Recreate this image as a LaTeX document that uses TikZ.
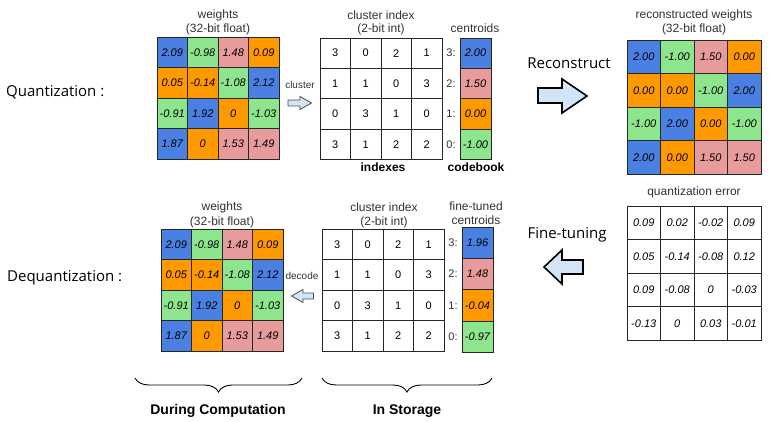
\documentclass[tikz,border=0pt]{standalone}
\usepackage{fontspec}
\setmainfont{Liberation Sans}
\newfontfamily\labfont{Open Sans}
\usetikzlibrary{decorations.pathreplacing}
\definecolor{cblue}{HTML}{4A80E1}
\definecolor{cgreen}{HTML}{8DE68D}
\definecolor{cpink}{HTML}{E89B9B}
\definecolor{corange}{HTML}{FF9900}
\definecolor{afill}{HTML}{D2E4F5}
\definecolor{tgray}{HTML}{333333}
\colorlet{c0}{cgreen}
\colorlet{c1}{corange}
\colorlet{c2}{cpink}
\colorlet{c3}{cblue}
\tikzset{
  cell/.style={draw=black!85, line width=0.8pt, inner sep=0pt, text=black,
    font=\fontsize{11}{11}\selectfont\itshape},
  icell/.style={cell, font=\fontsize{11}{11}\selectfont},
  ttl/.style={text=tgray, font=\fontsize{12}{14}\selectfont, inner sep=0pt},
  small/.style={text=tgray, font=\fontsize{10}{12}\selectfont, inner sep=0pt},
  bold/.style={text=black, font=\fontsize{12}{14}\selectfont\bfseries, inner sep=0pt},
  big/.style={text=black, font=\labfont\fontsize{15}{18}\selectfont, inner sep=0pt},
  bottomlbl/.style={text=black, font=\fontsize{14}{16}\selectfont\bfseries, inner sep=0pt},
  lbl/.style={text=tgray, font=\fontsize{11}{12}\selectfont, inner sep=0pt},
  bigarrow/.style={draw=black, line width=1.6pt, fill=afill, line join=miter},
  smallarrow/.style={draw=black!70, line width=0.8pt, fill=afill},
  bracestyle/.style={draw=black, line width=0.9pt, decorate,
    decoration={brace, mirror, amplitude=14pt}},
}
\def\idx{{3,0,2,1,1,1,0,3,0,3,1,0,3,1,2,2}}
\begin{document}
\begin{tikzpicture}[x=1pt,y=-1pt]
\useasboundingbox (0,0) rectangle (775,422);
\fill[white] (0,0) rectangle (775,422);

% left labels
\node[big, anchor=west] (lq) at (6,92) {Quantization :};
\node[big, anchor=west] (ldq) at (7,278) {Dequantization :};

% ---------- top-left weights ----------
\node[ttl] (t1a) at (218,15) {weights};
\node[ttl] (t1b) at (218,29) {(32-bit float)};
\foreach \v [count=\i from 0] in {2.09,-0.98,1.48,0.09,0.05,-0.14,-1.08,2.12,-0.91,1.92,0,-1.03,1.87,0,1.53,1.49}{
  \pgfmathtruncatemacro\r{div(\i,4)}
  \pgfmathtruncatemacro\c{mod(\i,4)}
  \pgfmathtruncatemacro\k{\idx[\i]}
  \node[cell, fill=c\k, minimum width=30.5pt, minimum height=30.5pt]
    (wq-\r-\c) at ({157+30.5*(\c+0.5)},{37+30.5*(\r+0.5)}) {\v};
}

% cluster arrow
\node[small] (lcl) at (300,85) {cluster};
\draw[smallarrow] (288,100) -- (300,100) -- (300,96.5) -- (311.5,103) -- (300,109.5) -- (300,106) -- (288,106) -- cycle;

% ---------- top cluster index ----------
\node[ttl] (t2a) at (381,15) {cluster index};
\node[ttl] (t2b) at (381,29) {(2-bit int)};
\foreach \v [count=\i from 0] in {3,0,2,1,1,1,0,3,0,3,1,0,3,1,2,2}{
  \pgfmathtruncatemacro\r{div(\i,4)}
  \pgfmathtruncatemacro\c{mod(\i,4)}
  \node[icell, fill=white, minimum width=30.5pt, minimum height=30.4pt]
    (ci-\r-\c) at ({320+30.5*(\c+0.5)},{38+30.4*(\r+0.5)}) {\v};
}
\node[bold] (lidx) at (383,167) {indexes};

% top centroids
\node[ttl] (t3) at (475,28) {centroids};
\foreach \v/\k [count=\i from 0] in {2.00/3,1.50/2,0.00/1,-1.00/0}{
  \node[cell, fill=c\k, minimum width=31pt, minimum height=30.4pt]
    (cc-\i) at (475.5,{38+30.4*(\i+0.5)}) {\v};
  \node[lbl] (ccl-\i) at (451,{38+30.4*(\i+0.5)}) {\k:};
}
\node[bold] (lcb) at (476,167) {codebook};

% Reconstruct arrow
\node[big] (lrec) at (569,63) {Reconstruct};
\draw[bigarrow] (538,88) -- (562,88) -- (562,79) -- (587,96) -- (562,113) -- (562,103) -- (538,103) -- cycle;

% ---------- top-right reconstructed ----------
\node[ttl] (t4a) at (694,15) {reconstructed weights};
\node[ttl] (t4b) at (694,29) {(32-bit float)};
\foreach \v [count=\i from 0] in {2.00,-1.00,1.50,0.00,0.00,0.00,-1.00,2.00,-1.00,2.00,0.00,-1.00,2.00,0.00,1.50,1.50}{
  \pgfmathtruncatemacro\r{div(\i,4)}
  \pgfmathtruncatemacro\c{mod(\i,4)}
  \pgfmathtruncatemacro\k{\idx[\i]}
  \node[cell, fill=c\k, minimum width=33.5pt, minimum height=33.5pt]
    (rw-\r-\c) at ({627+33.5*(\c+0.5)},{40+33.5*(\r+0.5)}) {\v};
}

% ---------- bottom-right quantization error ----------
\node[ttl] (t5) at (694,192) {quantization error};
\foreach \v [count=\i from 0] in {0.09,0.02,-0.02,0.09,0.05,-0.14,-0.08,0.12,0.09,-0.08,0,-0.03,-0.13,0,0.03,-0.01}{
  \pgfmathtruncatemacro\r{div(\i,4)}
  \pgfmathtruncatemacro\c{mod(\i,4)}
  \node[cell, fill=white, minimum width=33.5pt, minimum height=33.6pt]
    (qe-\r-\c) at ({627+33.5*(\c+0.5)},{206+33.6*(\r+0.5)}) {\v};
}

% Fine-tuning arrow
\node[big] (lft) at (567,235) {Fine-tuning};
\draw[bigarrow] (583,260) -- (562,260) -- (562,250) -- (544,267) -- (562,284) -- (562,274) -- (583,274) -- cycle;

% ---------- bottom fine-tuned centroids ----------
\node[ttl] (t6a) at (476,206) {fine-tuned};
\node[ttl] (t6b) at (476,220) {centroids};
\foreach \v/\k [count=\i from 0] in {1.96/3,1.48/2,-0.04/1,-0.97/0}{
  \node[cell, fill=c\k, minimum width=31pt, minimum height=31.3pt]
    (fc-\i) at (477.5,{227+31.3*(\i+0.5)}) {\v};
  \node[lbl] (fcl-\i) at (453,{227+31.3*(\i+0.5)}) {\k:};
}

% ---------- bottom cluster index ----------
\node[ttl] (t7a) at (384,207) {cluster index};
\node[ttl] (t7b) at (384,222) {(2-bit int)};
\foreach \v [count=\i from 0] in {3,0,2,1,1,1,0,3,0,3,1,0,3,1,2,2}{
  \pgfmathtruncatemacro\r{div(\i,4)}
  \pgfmathtruncatemacro\c{mod(\i,4)}
  \node[icell, fill=white, minimum width=30.5pt, minimum height=30.5pt]
    (bi-\r-\c) at ({322+30.5*(\c+0.5)},{229+30.5*(\r+0.5)}) {\v};
}

% decode arrow
\node[small] (ldec) at (302,276) {decode};
\draw[smallarrow] (313.5,293) -- (303,293) -- (303,289.5) -- (291.5,296) -- (303,302.5) -- (303,299) -- (313.5,299) -- cycle;

% ---------- bottom-left weights ----------
\node[ttl] (t8a) at (222,207) {weights};
\node[ttl] (t8b) at (222,222) {(32-bit float)};
\foreach \v [count=\i from 0] in {2.09,-0.98,1.48,0.09,0.05,-0.14,-1.08,2.12,-0.91,1.92,0,-1.03,1.87,0,1.53,1.49}{
  \pgfmathtruncatemacro\r{div(\i,4)}
  \pgfmathtruncatemacro\c{mod(\i,4)}
  \pgfmathtruncatemacro\k{\idx[\i]}
  \node[cell, fill=c\k, minimum width=30.5pt, minimum height=30.5pt]
    (wd-\r-\c) at ({161+30.5*(\c+0.5)},{229+30.5*(\r+0.5)}) {\v};
}

% braces
\coordinate (b1s) at (135,378);
\coordinate (b1e) at (302,378);
\coordinate (b2s) at (322,378);
\coordinate (b2e) at (492,378);
\draw[bracestyle] (b1s) -- (b1e);
\draw[bracestyle] (b2s) -- (b2e);
\node[bottomlbl] (ldc) at (218,411) {During Computation};
\node[bottomlbl] (lis) at (407,411) {In Storage};
\end{tikzpicture}
\end{document}
